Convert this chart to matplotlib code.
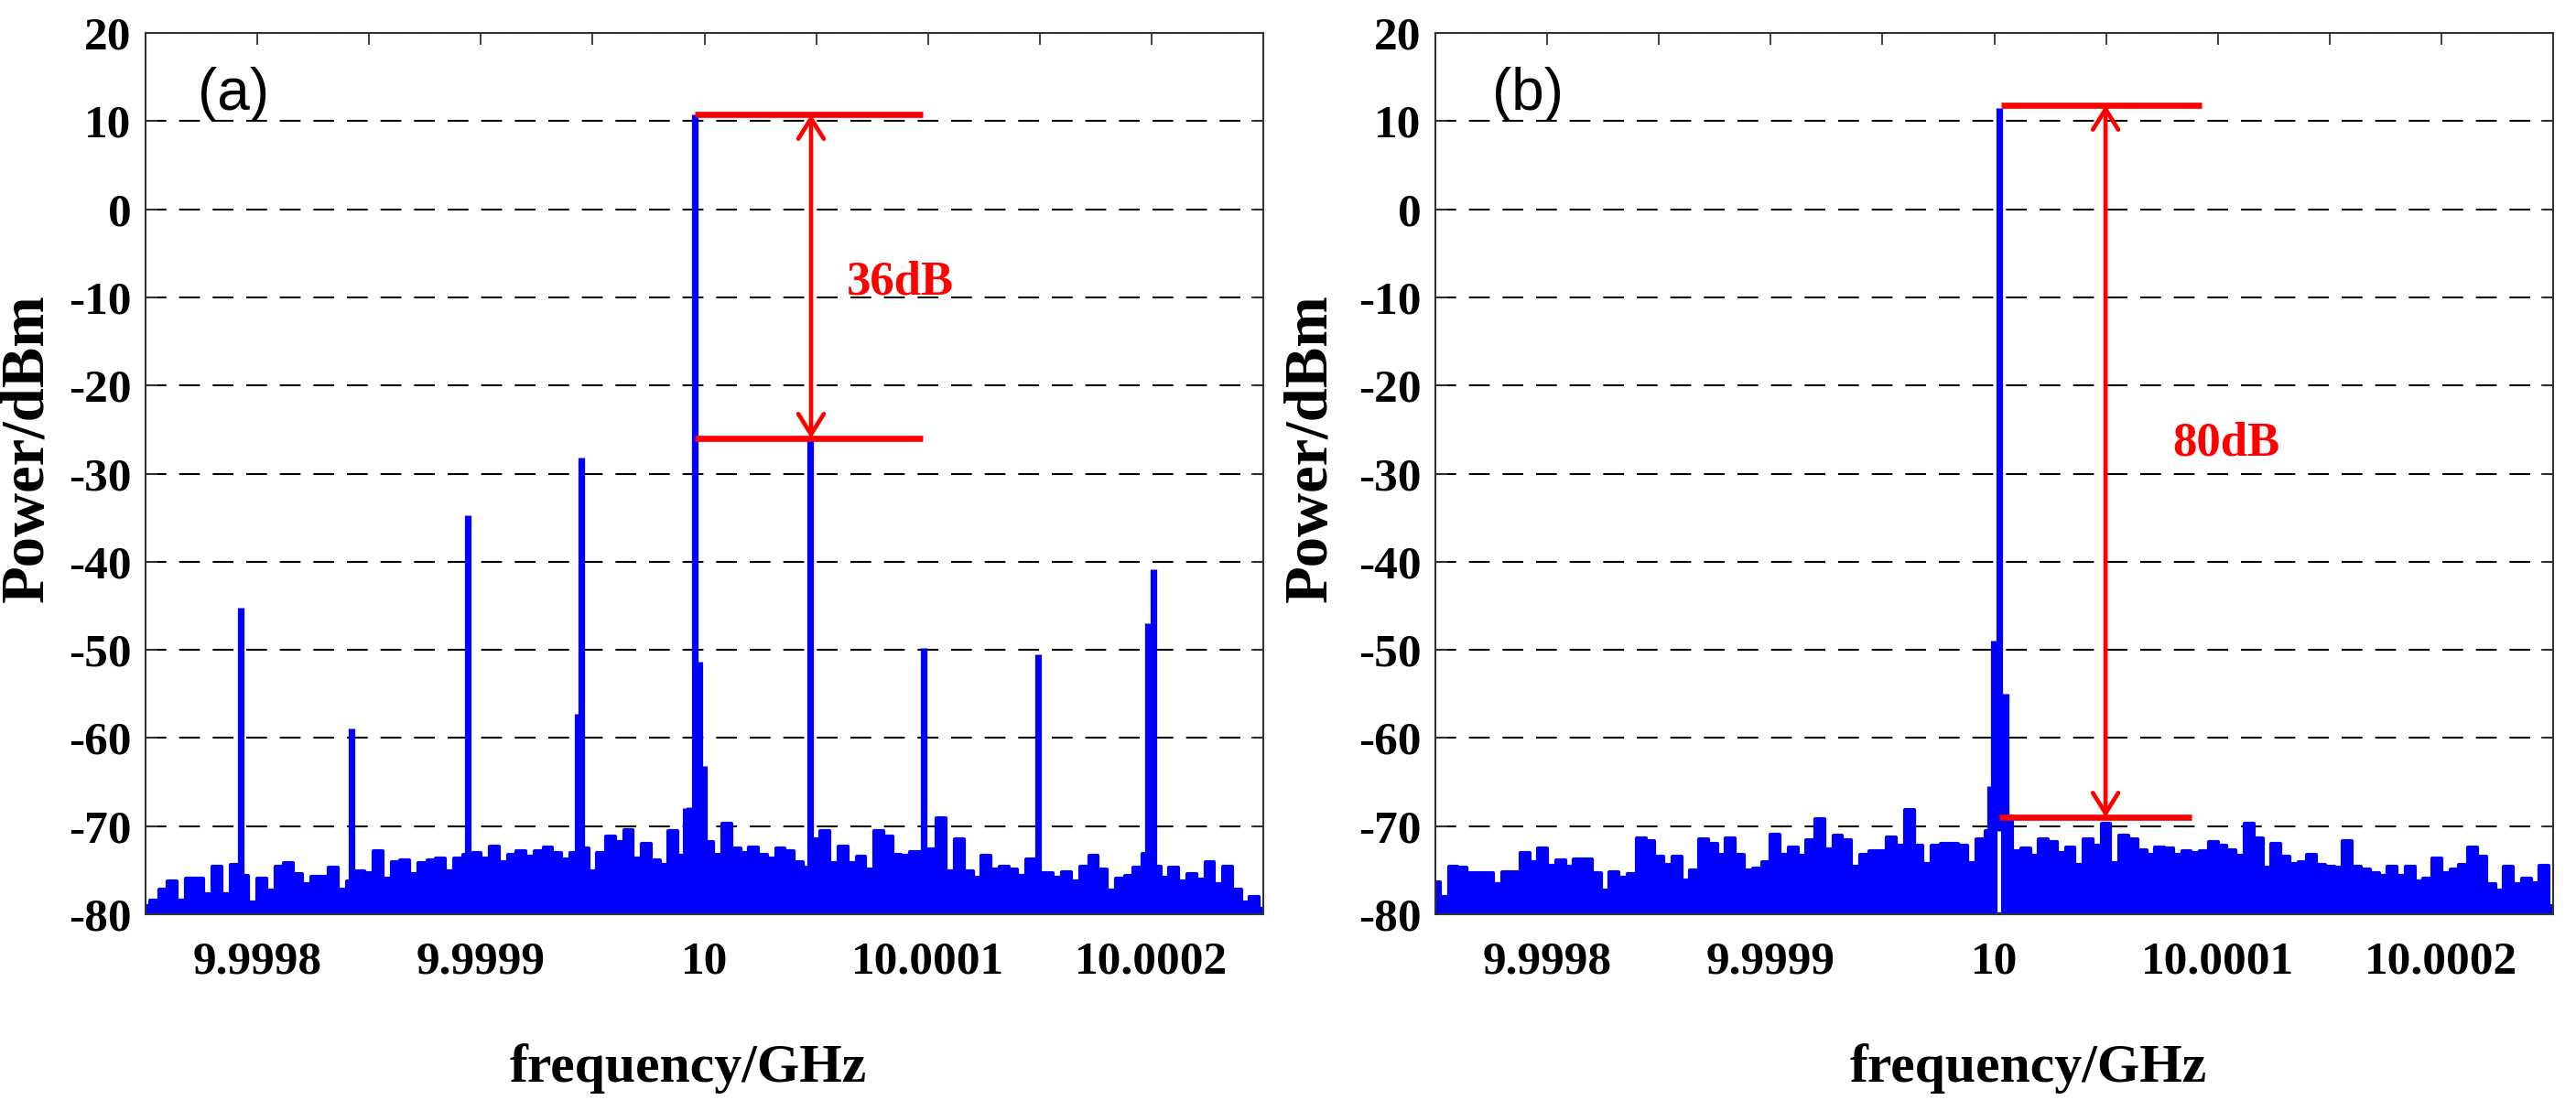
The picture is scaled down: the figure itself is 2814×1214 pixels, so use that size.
import numpy as np
import matplotlib
matplotlib.use('Agg')
import matplotlib.pyplot as plt

# ---------------- data ----------------
F0, F1 = 9.99975, 10.00025          # x range, GHz

# noise-floor envelope, dBm, sampled every 4e-6 GHz from F0 to F1
noise_a = [-79.1, -78.4, -77.2, -76.3, -78.4, -75.9, -75.9, -77.7, -74.6, -77.7,
           -74.4, -75.6, -78.6, -75.9, -77.3, -74.6, -74.2, -75.4, -76.6, -75.7,
           -75.7, -74.7, -77.2, -76.3, -75.1, -75.3, -72.8, -76.0, -74.1, -73.9,
           -75.4, -74.2, -73.9, -73.7, -75.1, -73.7, -73.2, -73.0, -73.7, -72.3,
           -74.1, -73.2,
           -72.8, -73.5, -72.8, -72.4, -73.0, -73.8, -73.0, -72.5, -75.1, -73.0,
           -71.2, -71.8, -70.4, -73.7, -72.0, -73.9, -74.4, -70.5, -73.4, -70.8,
           -71.8, -71.8, -73.2, -69.7, -72.5, -73.0, -72.4, -73.2, -73.7, -72.5,
           -72.8, -74.1, -74.7, -71.5, -70.5, -74.2, -72.3, -74.2, -73.5, -74.9,
           -70.5, -71.2,
           -73.2, -73.4, -72.9, -72.9, -72.6, -69.1, -75.1, -71.5, -75.1, -75.8,
           -73.4, -74.9, -74.6, -74.9, -75.6, -73.8, -75.3, -75.3, -75.8, -75.2,
           -76.3, -74.6, -73.4, -74.9, -77.3, -76.0, -75.6, -74.7, -73.1, -74.6,
           -75.8, -74.7, -76.3, -75.4, -76.1, -74.1, -76.6, -74.6, -77.2, -78.7,
           -78.0, -79.4]

noise_b = [-76.4, -78.0, -74.6, -74.7, -75.3, -75.3, -75.3, -76.6, -75.2, -75.2,
           -73.0, -74.1, -72.5, -74.5, -73.9, -74.6, -73.8, -73.8, -75.3, -77.3,
           -75.2, -75.8, -75.4, -71.4, -71.7, -73.5, -74.4, -73.5, -76.2, -75.0,
           -71.5, -72.0, -73.2, -71.4, -73.2, -75.0, -74.8, -74.1, -71.0, -73.2,
           -72.4, -73.4,
           -71.6, -69.2, -72.6, -71.1, -71.6, -74.6, -73.2, -72.8, -72.8, -71.3,
           -72.2, -68.2, -72.2, -74.3, -72.2, -72.0, -72.0, -72.2, -74.2, -71.5,
           -70.6, -80.0, -68.9, -72.8, -72.5, -73.4, -71.5, -71.8, -73.0, -72.4,
           -74.4, -71.5, -72.2, -69.7, -74.2, -71.1, -71.5, -72.7, -73.2, -72.4,
           -72.5, -73.2,
           -72.8, -73.0, -72.8, -71.8, -72.2, -72.7, -73.4, -69.7, -71.4, -74.7,
           -72.0, -73.5, -74.3, -74.1, -73.2, -74.4, -74.6, -74.7, -71.7, -74.6,
           -74.9, -75.3, -75.6, -74.6, -75.6, -74.6, -76.3, -76.0, -73.7, -75.3,
           -74.9, -74.4, -72.4, -73.5, -76.6, -77.3, -74.6, -76.6, -76.0, -76.5,
           -74.5, -79.1]

# discrete spectral lines: frequency, top level and foot level (dBm)
peak_a_freq = [9.9997926, 9.9998421, 9.9998941, 9.9999433, 9.9999449,
               9.9999916, 9.9999932, 9.9999957, 9.9999978, 9.9999998,
               10.0000473, 10.0000981, 10.0001493, 10.0001984, 10.0002009]
peak_a_top = [-45.2, -58.9, -34.7, -57.3, -28.2,
              -68.0, -67.8, 10.8, -51.3, -63.2,
              -26.0, -49.8, -50.5, -47.0, -40.9]
peak_a_base = [-80] * 15

peak_b_freq = [9.9999982, 9.9999998, 10.0000023, 10.0000051]
peak_b_top = [-65.5, -49.0, 11.5, -55.0]
peak_b_base = [-80, -80, -70.5, -80]

# red annotations: [level_top, level_bottom], x-span of bars, arrow x, label
ann_a_levels = [10.76, -26.0]
ann_a_span = [9.9999957, 10.0000977]
ann_a_arrow_x = 10.0000477
ann_a_text = '36dB'
ann_a_text_pos = [10.0000637, -9.6]

ann_b_levels = [11.8, -69.0]
ann_b_span_top = [10.0000029, 10.0000928]
ann_b_span_bot = [10.0000023, 10.0000882]
ann_b_arrow_x = 10.0000498
ann_b_text = '80dB'
ann_b_text_pos = [10.0000797, -27.9]

xtick_vals = [9.9998, 9.99985, 9.9999, 9.99995, 10.0, 10.00005, 10.0001, 10.00015, 10.0002]
xtick_labels = ['9.9998', '', '9.9999', '', '10', '', '10.0001', '', '10.0002']
ytick_vals = [20, 10, 0, -10, -20, -30, -40, -50, -60, -70, -80]
ytick_labels = ['20', '10', '0', '-10', '-20', '-30', '-40', '-50', '-60', '-70', '-80']

xlabel = 'frequency/GHz'
ylabel = 'Power/dBm'
panel_labels = ['(a)', '(b)']

# ---------------- figure ----------------
W, H = 2814, 1214
fig = plt.figure(figsize=(W / 100, H / 100), dpi=100)
fig.patch.set_facecolor('white')

SERIF = 'Liberation Serif'
SANS = 'Liberation Sans'
BLUE = '#0000ff'
RED = '#ff0000'


def axes_px(l, r, t, b):
    return fig.add_axes([l / W, 1 - b / H, (r - l) / W, (b - t) / H])


def style(ax):
    ax.set_xlim(F0, F1)
    ax.set_ylim(-80, 20)
    ax.set_axisbelow(True)
    ax.yaxis.grid(True, color='black', lw=1.5, linestyle=(0, (10.9, 6.7)))
    ax.set_xticks(xtick_vals)
    ax.set_xticklabels(xtick_labels, fontsize=37, fontweight='bold', family=SERIF)
    ax.set_yticks(ytick_vals)
    ax.set_yticklabels(ytick_labels, fontsize=37, fontweight='bold', family=SERIF)
    ax.tick_params(direction='in', length=9.4, width=1.3, top=True, right=True,
                   color='#333333')
    ax.tick_params(axis='x', pad=21)
    ax.tick_params(axis='y', pad=11)
    for s in ax.spines.values():
        s.set_linewidth(1.5)
        s.set_color('#333333')
        s.set_zorder(5)


def draw_spectrum(ax, noise, pf, pt, pb):
    f = np.linspace(F0, F1, len(noise))
    ax.fill_between(f, -80, noise, step='mid', color=BLUE, lw=0, zorder=2)
    ax.plot(f, noise, drawstyle='steps-mid', color=BLUE, lw=3.0, zorder=2,
            solid_joinstyle='round', solid_capstyle='round')
    ax.vlines(pf, pb, pt, color=BLUE, lw=5.2, zorder=3)


def arrow(ax, x, y_top, y_bot):
    ax.annotate('', xy=(x, y_top), xytext=(x, y_bot),
                arrowprops=dict(arrowstyle='<->,head_length=16,head_width=10',
                                lw=3.4, color=RED, shrinkA=0, shrinkB=0,
                                mutation_scale=1),
                zorder=6)


# panel (a)
ax_a = axes_px(159, 1380, 36, 999)
style(ax_a)
draw_spectrum(ax_a, noise_a, peak_a_freq, peak_a_top, peak_a_base)
ax_a.hlines(ann_a_levels, ann_a_span[0], ann_a_span[1], color=RED, lw=4.8, zorder=6)
arrow(ax_a, ann_a_arrow_x, ann_a_levels[0], ann_a_levels[1])
ax_a.text(ann_a_text_pos[0], ann_a_text_pos[1], ann_a_text, color=RED, fontsize=38,
          fontweight='bold', family=SERIF, ha='left', va='baseline', zorder=7)
ax_a.text(0.047, 0.913, panel_labels[0], transform=ax_a.transAxes, fontsize=46,
          family=SANS, ha='left', va='baseline')

# panel (b)
ax_b = axes_px(1568, 2789, 36, 999)
style(ax_b)
draw_spectrum(ax_b, noise_b, peak_b_freq, peak_b_top, peak_b_base)
ax_b.hlines(ann_b_levels[0], ann_b_span_top[0], ann_b_span_top[1], color=RED, lw=4.8, zorder=6)
ax_b.hlines(ann_b_levels[1], ann_b_span_bot[0], ann_b_span_bot[1], color=RED, lw=4.8, zorder=6)
arrow(ax_b, ann_b_arrow_x, ann_b_levels[0], ann_b_levels[1])
ax_b.text(ann_b_text_pos[0], ann_b_text_pos[1], ann_b_text, color=RED, fontsize=38,
          fontweight='bold', family=SERIF, ha='left', va='baseline', zorder=7)
ax_b.text(0.051, 0.913, panel_labels[1], transform=ax_b.transAxes, fontsize=46,
          family=SANS, ha='left', va='baseline')

# axis titles
for xc in (752, 2216):
    fig.text(xc / W, 1 - 1168 / H, xlabel, fontsize=43, fontweight='bold',
             family=SERIF, ha='center', va='center')
for xc in (30, 1432):
    fig.text(xc / W, 1 - 490 / H, ylabel, fontsize=48, fontweight='bold',
             family=SERIF, ha='center', va='center', rotation=90)

fig.savefig('out.png', dpi=100, facecolor='white')
